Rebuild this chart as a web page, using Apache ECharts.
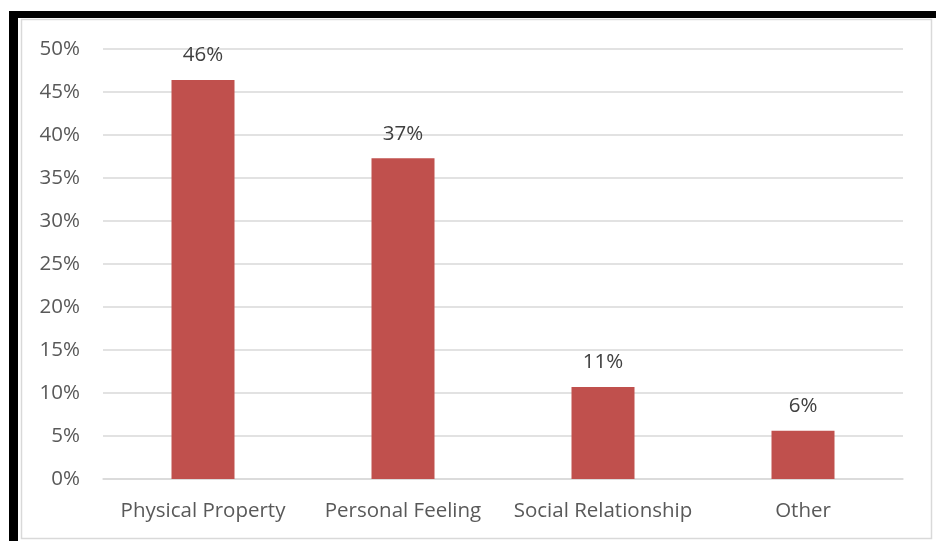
<!DOCTYPE html>
<html>
<head>
<meta charset="utf-8">
<script src="https://cdn.jsdelivr.net/npm/echarts@6/dist/echarts.min.js"></script>
<style>
  html, body { margin: 0; padding: 0; background: #fff; }
  #chart { width: 936px; height: 541px; }
</style>
</head>
<body>
<div id="chart"></div>
<script>
// Categories and shares (fractions of total)
const categories = ['Physical Property', 'Personal Feeling', 'Social Relationship', 'Other'];
const shares = [0.464, 0.373, 0.107, 0.056];
const yTicks = [0, 0.05, 0.1, 0.15, 0.2, 0.25, 0.3, 0.35, 0.4, 0.45, 0.5];

const pct = v => Math.round(v * 100) + '%';

const chart = echarts.init(document.getElementById('chart'), null, { renderer: 'canvas' });
chart.setOption({
  backgroundColor: '#ffffff',
  animation: false,
  textStyle: { fontFamily: 'Open Sans' },
  graphic: [
    // frame around the chart
    { type: 'rect', shape: { x: 21.5, y: 19.5, width: 910, height: 519 },
      style: { fill: 'none', stroke: '#d9d9d9', lineWidth: 1.5 }, z: 0 },
    { type: 'rect', shape: { x: 9, y: 11, width: 927, height: 7 }, style: { fill: '#000' }, z: 1 },
    { type: 'rect', shape: { x: 9, y: 11, width: 9, height: 530 }, style: { fill: '#000' }, z: 1 }
  ],
  grid: { left: 103, right: 33, top: 49, bottom: 62, containLabel: false },
  xAxis: {
    type: 'category',
    data: categories,
    axisLine: { show: true, lineStyle: { color: '#d9d9d9', width: 1.5 } },
    axisTick: { show: false },
    axisLabel: { color: '#595959', fontSize: 20.5, margin: 22, interval: 0 }
  },
  yAxis: {
    type: 'value',
    min: yTicks[0],
    max: yTicks[yTicks.length - 1],
    interval: 0.05,
    axisLine: { show: false },
    axisTick: { show: false },
    splitLine: { lineStyle: { color: '#d9d9d9', width: 1.5 } },
    axisLabel: { color: '#595959', fontSize: 20.5, margin: 23, formatter: pct }
  },
  series: [{
    type: 'bar',
    data: shares,
    barWidth: '31.5%',
    itemStyle: { color: '#c0504d' },
    label: {
      show: true,
      position: 'top',
      distance: 14,
      color: '#404040',
      fontSize: 20.5,
      formatter: p => pct(p.value)
    }
  }]
});
</script>
</body>
</html>
